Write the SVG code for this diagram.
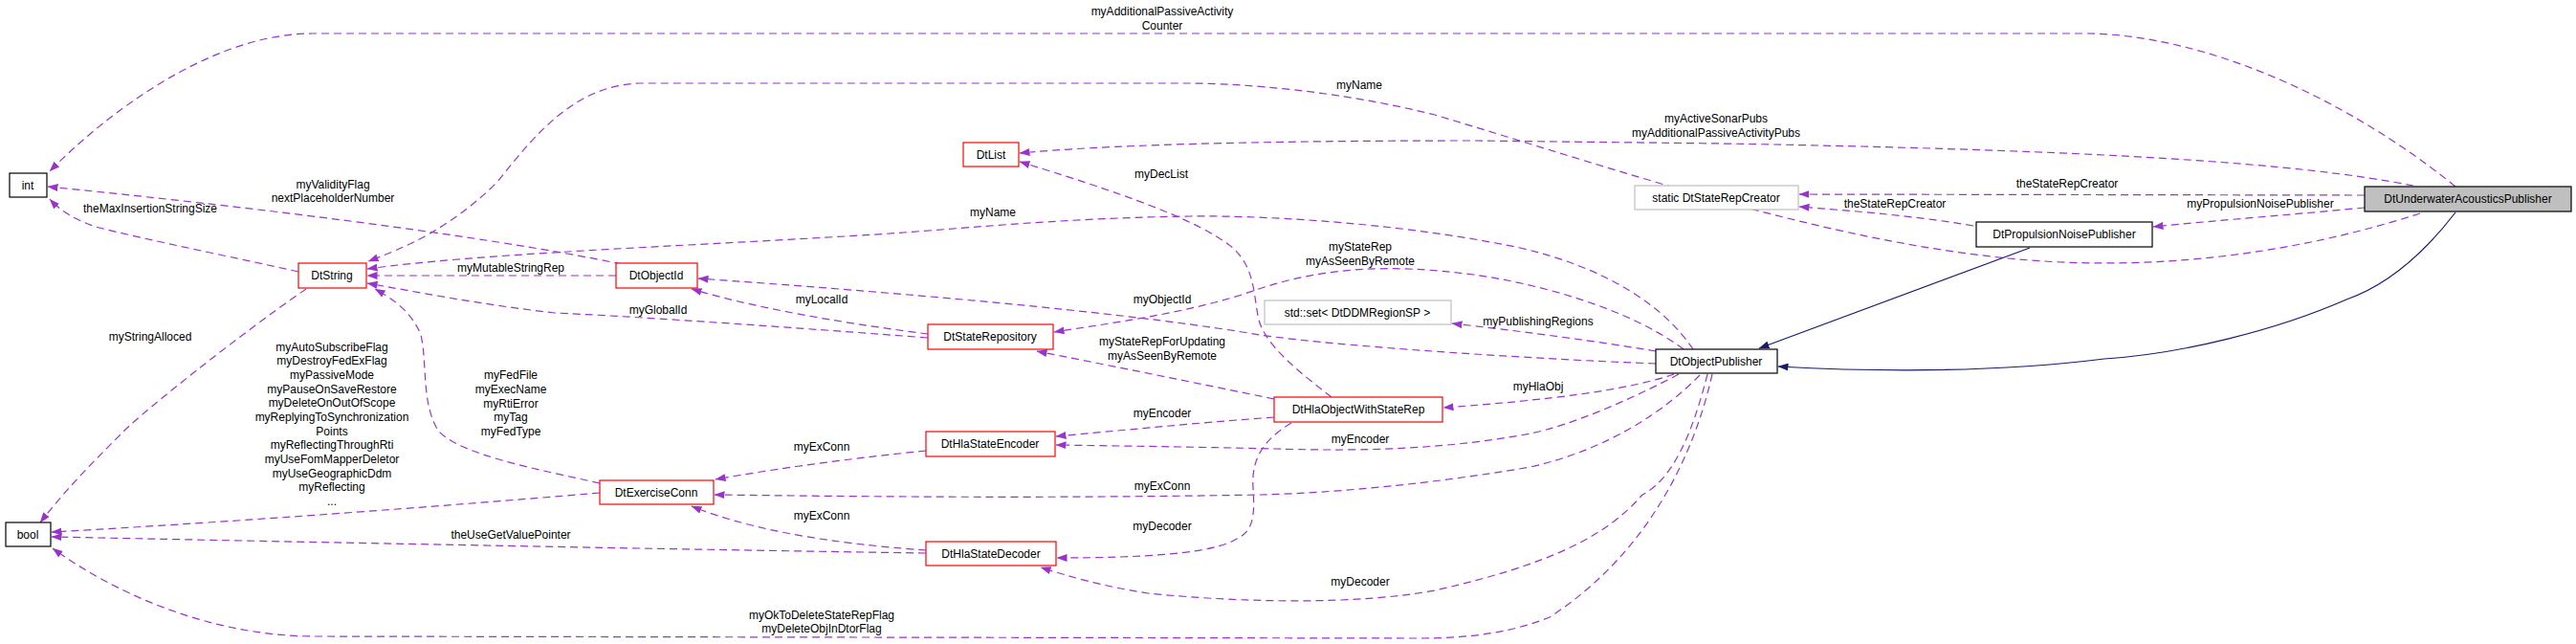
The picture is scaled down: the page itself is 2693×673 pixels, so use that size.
<svg xmlns="http://www.w3.org/2000/svg" width="2693" height="673" viewBox="0 0 2693 673">
<style>
text{font-family:"Liberation Sans",Arial,sans-serif;font-size:12px;fill:#000}
.n text{text-anchor:middle}
.l{text-anchor:middle}
.e{fill:none;stroke:#9a32cd;stroke-width:1.2;stroke-dasharray:8,5;marker-end:url(#pa)}
.i{fill:none;stroke:#191970;stroke-width:1.2;marker-end:url(#ia)}
.r{fill:#fff;stroke:#ff0000;stroke-width:1.2}
.b{fill:#fff;stroke:#000;stroke-width:1.2}
.g{fill:#fff;stroke:#bfbfbf;stroke-width:1.2}
</style>
<defs>
<marker id="pa" markerWidth="11" markerHeight="8" refX="10.5" refY="4" orient="auto" markerUnits="userSpaceOnUse"><path d="M0,0 L11,4 L0,8 Z" fill="#9a32cd"/></marker>
<marker id="ia" markerWidth="11" markerHeight="8" refX="10.5" refY="4" orient="auto" markerUnits="userSpaceOnUse"><path d="M0,0 L11,4 L0,8 Z" fill="#191970"/></marker>
</defs>
<rect width="2693" height="673" fill="#fff"/>
<g id="connectors">
<path class="e" d="M2567,195 C2450,100 2300,35 2178,35 L327,35 C220,35 110,120 52,179"/>
<path class="e" d="M2530,223 C2400,265 2250,285 2100,270 C1900,250 1700,180 1500,120 C1400,95 1300,87 1240,87 L668,87 C600,90 560,140 520,190 C470,240 420,260 385,273"/>
<path class="e" d="M2523,194 C2400,170 2200,157 1800,150 L1540,147 C1300,147 1150,152 1066,160"/>
<path class="e" d="M2472,204 L1881,203"/>
<path class="e" d="M2063,236 C2000,225 1930,220 1881,216"/>
<path class="e" d="M2472,217 C2400,224 2320,230 2251,237"/>
<path class="e" d="M1770,365 C1740,320 1680,280 1589,259 C1450,230 1300,225 1244,226 C1100,228 1000,240 900,246 C700,258 500,265 384,281"/>
<path class="e" d="M1760,365 C1700,320 1600,295 1540,287 C1450,275 1380,280 1313,303 C1250,325 1180,335 1102,347"/>
<path class="e" d="M1731,380 C1600,375 1400,362 1317,350 C1200,330 1000,310 730,291"/>
<path class="e" d="M650,276 C500,245 250,215 50,195"/>
<path class="e" d="M312,284 C250,270 150,250 100,237 C80,230 65,222 52,208"/>
<path class="e" d="M644,288 L384,288"/>
<path class="e" d="M970,353 C800,340 650,330 580,327 C500,318 430,304 384,296"/>
<path class="e" d="M970,349 C900,340 800,325 723,302"/>
<path class="e" d="M627,505 C560,490 480,475 458,450 C440,420 447,380 440,350 C430,325 410,312 392,302"/>
<path class="e" d="M320,302 C250,350 150,430 130,450 C100,480 70,510 42,546"/>
<path class="e" d="M627,515 C450,530 250,545 54,556"/>
<path class="e" d="M968,578 C700,574 400,568 54,561"/>
<path class="e" d="M1790,391 C1770,480 1720,580 1620,645 C1570,665 1520,667 1480,667 L330,665 C220,665 120,620 55,573"/>
<path class="e" d="M968,471 C900,478 820,488 748,501"/>
<path class="e" d="M1777,392 C1740,430 1680,470 1600,488 C1500,505 1400,515 1317,517 C1100,521 900,519 747,517"/>
<path class="e" d="M968,575 C900,570 800,560 723,529"/>
<path class="e" d="M1332,417 C1250,400 1150,380 1084,367"/>
<path class="e" d="M1392,415 C1360,390 1320,360 1315,330 C1310,300 1310,280 1290,260 C1260,235 1200,210 1066,169"/>
<path class="e" d="M1332,436 C1250,442 1170,450 1104,456"/>
<path class="e" d="M1755,391 C1700,420 1640,445 1600,453 C1500,472 1400,471 1333,469 C1250,467 1170,466 1104,465"/>
<path class="e" d="M1350,442 C1320,460 1308,480 1310,510 C1312,540 1310,555 1293,563 C1270,578 1200,583 1105,583"/>
<path class="e" d="M1785,391 C1770,450 1750,500 1717,517 C1680,560 1620,590 1500,617 C1420,632 1300,630 1200,620 C1150,612 1120,603 1088,593"/>
<path class="e" d="M1750,391 C1700,408 1620,418 1509,426"/>
<path class="e" d="M1731,367 C1660,355 1580,345 1518,338"/>
<path class="i" d="M2122,259 L1839,364"/>
<path class="i" d="M2567,222 C2530,270 2490,300 2453,313 C2380,345 2280,370 2200,375 C2080,390 1950,388 1859,383"/>
</g>
<g id="labels">
<text class="l" x="1215" y="16">myAdditionalPassiveActivity</text>
<text class="l" x="1215" y="31">Counter</text>
<text class="l" x="1421" y="93">myName</text>
<text class="l" x="1794" y="128">myActiveSonarPubs</text>
<text class="l" x="1794" y="143">myAdditionalPassiveActivityPubs</text>
<text class="l" x="2161" y="196">theStateRepCreator</text>
<text class="l" x="1981" y="217">theStateRepCreator</text>
<text class="l" x="2363" y="217">myPropulsionNoisePublisher</text>
<text class="l" x="1038" y="226">myName</text>
<text class="l" x="1422" y="262">myStateRep</text>
<text class="l" x="1422" y="277">myAsSeenByRemote</text>
<text class="l" x="1214" y="186">myDecList</text>
<text class="l" x="1215" y="317">myObjectId</text>
<text class="l" x="348" y="197">myValidityFlag</text>
<text class="l" x="348" y="211">nextPlaceholderNumber</text>
<text class="l" x="157" y="222">theMaxInsertionStringSize</text>
<text class="l" x="534" y="284">myMutableStringRep</text>
<text class="l" x="688" y="328">myGlobalId</text>
<text class="l" x="859" y="317">myLocalId</text>
<text class="l" x="157" y="356">myStringAlloced</text>
<text class="l" x="534" y="396">myFedFile</text>
<text class="l" x="534" y="411">myExecName</text>
<text class="l" x="534" y="426">myRtiError</text>
<text class="l" x="534" y="440">myTag</text>
<text class="l" x="534" y="455">myFedType</text>
<text class="l" x="347" y="367">myAutoSubscribeFlag</text>
<text class="l" x="347" y="381">myDestroyFedExFlag</text>
<text class="l" x="347" y="396">myPassiveMode</text>
<text class="l" x="347" y="411">myPauseOnSaveRestore</text>
<text class="l" x="347" y="425">myDeleteOnOutOfScope</text>
<text class="l" x="347" y="440">myReplyingToSynchronization</text>
<text class="l" x="347" y="455">Points</text>
<text class="l" x="347" y="469">myReflectingThroughRti</text>
<text class="l" x="347" y="484">myUseFomMapperDeletor</text>
<text class="l" x="347" y="499">myUseGeographicDdm</text>
<text class="l" x="347" y="513">myReflecting</text>
<text class="l" x="347" y="528">...</text>
<text class="l" x="534" y="563">theUseGetValuePointer</text>
<text class="l" x="859" y="647">myOkToDeleteStateRepFlag</text>
<text class="l" x="859" y="661">myDeleteObjInDtorFlag</text>
<text class="l" x="859" y="471">myExConn</text>
<text class="l" x="1215" y="512">myExConn</text>
<text class="l" x="859" y="543">myExConn</text>
<text class="l" x="1215" y="361">myStateRepForUpdating</text>
<text class="l" x="1215" y="376">myAsSeenByRemote</text>
<text class="l" x="1215" y="436">myEncoder</text>
<text class="l" x="1422" y="463">myEncoder</text>
<text class="l" x="1215" y="554">myDecoder</text>
<text class="l" x="1422" y="612">myDecoder</text>
<text class="l" x="1608" y="408">myHlaObj</text>
<text class="l" x="1608" y="340">myPublishingRegions</text>
</g>
<g id="n-uap" class="n"><rect x="2472" y="195" width="216" height="26" fill="#bfbfbf" stroke="#000" stroke-width="1.2"/><text x="2580" y="212">DtUnderwaterAcousticsPublisher</text></g>
<g id="n-pnp" class="n"><rect class="b" x="2066" y="232" width="184" height="26"/><text x="2158" y="249">DtPropulsionNoisePublisher</text></g>
<g id="n-src" class="n"><rect class="g" x="1709" y="194" width="171" height="25"/><text x="1794" y="211">static DtStateRepCreator</text></g>
<g id="n-op" class="n"><rect class="b" x="1731" y="365" width="127" height="25"/><text x="1794" y="382">DtObjectPublisher</text></g>
<g id="n-set" class="n"><rect class="g" x="1322" y="314" width="195" height="25"/><text x="1419" y="331">std::set&lt; DtDDMRegionSP &gt;</text></g>
<g id="n-howsr" class="n"><rect class="r" x="1332" y="415" width="176" height="26"/><text x="1420" y="432">DtHlaObjectWithStateRep</text></g>
<g id="n-list" class="n"><rect class="r" x="1007" y="149" width="58" height="25"/><text x="1036" y="166">DtList</text></g>
<g id="n-sr" class="n"><rect class="r" x="970" y="339" width="131" height="26"/><text x="1035" y="356">DtStateRepository</text></g>
<g id="n-hse" class="n"><rect class="r" x="968" y="451" width="135" height="26"/><text x="1035" y="468">DtHlaStateEncoder</text></g>
<g id="n-hsd" class="n"><rect class="r" x="968" y="566" width="136" height="25"/><text x="1036" y="583">DtHlaStateDecoder</text></g>
<g id="n-ec" class="n"><rect class="r" x="627" y="502" width="119" height="25"/><text x="686" y="519">DtExerciseConn</text></g>
<g id="n-oid" class="n"><rect class="r" x="644" y="275" width="85" height="26"/><text x="686" y="292">DtObjectId</text></g>
<g id="n-str" class="n"><rect class="r" x="312" y="275" width="71" height="26"/><text x="347" y="292">DtString</text></g>
<g id="n-int" class="n"><rect class="b" x="10" y="181" width="39" height="25"/><text x="29" y="198">int</text></g>
<g id="n-bool" class="n"><rect class="b" x="6" y="546" width="47" height="25"/><text x="29" y="563">bool</text></g>
</svg>
